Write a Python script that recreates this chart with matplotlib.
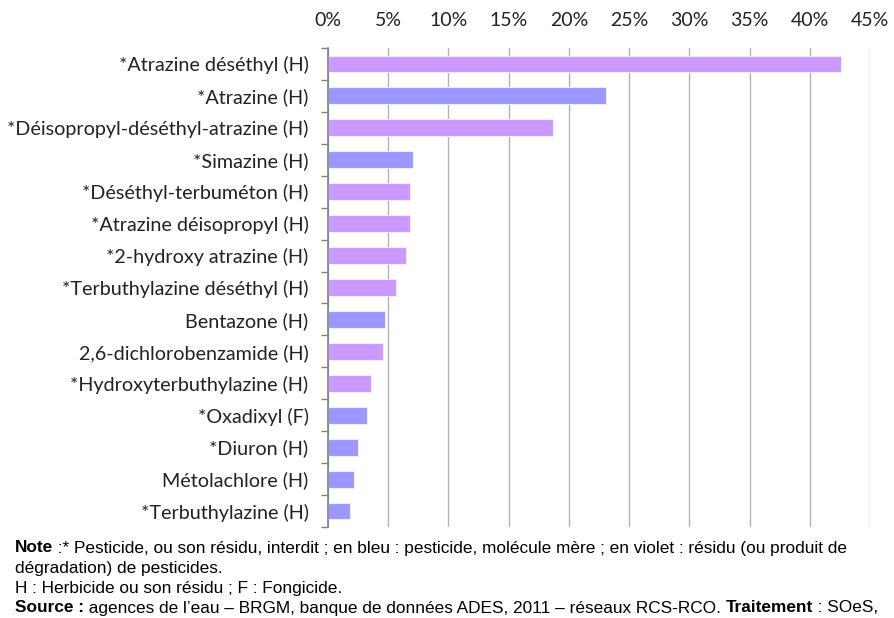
import numpy as np
import matplotlib
matplotlib.use("Agg")
import matplotlib.pyplot as plt
from matplotlib.ticker import PercentFormatter, FixedLocator

# molecules, top to bottom
molecules = [
    "*Atrazine déséthyl (H)",
    "*Atrazine (H)",
    "*Déisopropyl-déséthyl-atrazine (H)",
    "*Simazine (H)",
    "*Déséthyl-terbuméton (H)",
    "*Atrazine déisopropyl (H)",
    "*2-hydroxy atrazine (H)",
    "*Terbuthylazine déséthyl (H)",
    "Bentazone (H)",
    "2,6-dichlorobenzamide (H)",
    "*Hydroxyterbuthylazine (H)",
    "*Oxadixyl (F)",
    "*Diuron (H)",
    "Métolachlore (H)",
    "*Terbuthylazine (H)",
]
# share of stations where found (%)
shares = [42.6, 23.05, 18.65, 7.05, 6.8, 6.8, 6.45, 5.65, 4.75, 4.6, 3.6, 3.25, 2.5, 2.15, 1.85]
# P = parent molecule (blue), R = residue (violet)
kinds = ["R", "P", "R", "P", "R", "R", "R", "R", "P", "R", "R", "P", "P", "P", "P"]

kind_colors = {"P": "#9999FF", "R": "#CC99FF"}

W, H = 895, 618
fig = plt.figure(figsize=(W / 100, H / 100), dpi=100)
ax = fig.add_axes([328 / W, 1 - 527 / H, 542 / W, 479 / H])

y = np.arange(len(molecules))
colors = [kind_colors[k] for k in kinds]
ax.barh(y, shares, height=0.53, color=colors, edgecolor="#F0E8FF", linewidth=0.8, zorder=3)

ax.set_ylim(len(molecules) - 0.5, -0.5)
ax.set_xlim(0, 45)

# x axis on top
ax.xaxis.tick_top()
ax.xaxis.set_major_locator(FixedLocator(np.arange(0, 46, 5)))
ax.xaxis.set_major_formatter(PercentFormatter(decimals=0))
ax.tick_params(axis="x", length=0, pad=14, labelsize=14, labelcolor="#222222")
ax.grid(axis="x", color="#B3B3B3", linewidth=1.0, zorder=0)

# y axis labels and boundary ticks
ax.set_yticks(y)
ax.set_yticklabels(molecules)
ax.tick_params(axis="y", which="major", length=0, pad=14, labelsize=14.2, labelcolor="#222222")
ax.set_yticks(np.arange(-0.5, len(molecules), 1), minor=True)
ax.tick_params(axis="y", which="minor", length=5, width=1.0, color="#808080")

for s in ["top", "right", "bottom"]:
    ax.spines[s].set_visible(False)
ax.spines["left"].set_color("#808080")
ax.spines["left"].set_linewidth(1.2)
ax.spines["left"].set_zorder(4)

for lbl in ax.get_xticklabels() + ax.get_yticklabels():
    lbl.set_family(["Lato", "DejaVu Sans"])

# footer notes with mixed bold pieces
foot_font = ["Liberation Sans Narrow", "Liberation Sans", "DejaVu Sans"]
lines = [
    [("Note", "bold"), (" :* Pesticide, ou son résidu, interdit ; en bleu : pesticide, molécule mère ; en violet : résidu (ou produit de", "normal")],
    [("dégradation) de pesticides.", "normal")],
    [("H : Herbicide ou son résidu ; F : Fongicide.", "normal")],
    [("Source :", "bold"), (" agences de l\u2019eau \u2013 BRGM, banque de données ADES, 2011 \u2013 réseaux RCS-RCO. ", "normal"),
     ("Traitement", "bold"), (" : SOeS,", "normal")],
]
line_y = [548, 569, 589, 608]

fig.canvas.draw()
renderer = fig.canvas.get_renderer()
for pieces, yy in zip(lines, line_y):
    x = 15
    for txt, wt in pieces:
        t = fig.text(x / W, 1 - yy / H, txt, fontsize=12.4, fontweight=wt,
                     family=foot_font, va="center", ha="left", color="black")
        bb = t.get_window_extent(renderer=renderer)
        x += bb.width

fig.savefig("out.png", dpi=100)
